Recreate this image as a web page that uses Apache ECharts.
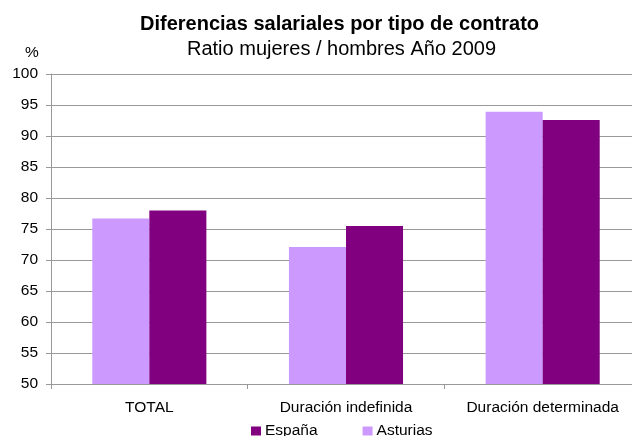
<!DOCTYPE html>
<html>
<head>
<meta charset="utf-8">
<script src="https://cdn.jsdelivr.net/npm/echarts@6/dist/echarts.min.js"></script>
<style>
  html, body { margin: 0; padding: 0; background: #fff; overflow: hidden; }
  #chart { width: 641px; height: 436px; }
</style>
</head>
<body>
<div id="chart"></div>
<script>
const categories = ["TOTAL", "Duración indefinida", "Duración determinada"]
const asturias = [76.7, 72.1, 93.9]
const espana = [78.0, 75.5, 92.6]
const legendNames = ["España", "Asturias"]

// plot area runs past the right edge in the original, so the div is wider than the window
const chart = echarts.init(document.getElementById("chart"))

chart.setOption({
    textStyle: { fontFamily: "Liberation Sans, Arial, sans-serif" },
    animation: false,
    title: [
        {
            text: "Diferencias salariales por tipo de contrato",
            left: 135,
            top: 9,
            textStyle: { fontSize: 20, fontWeight: "bold", color: "#000" },
        },
        {
            text: "Ratio mujeres / hombres Año 2009",
            left: 182,
            top: 34,
            textStyle: { fontSize: 20, fontWeight: "normal", color: "#000" },
        },
        {
            text: "%",
            left: 20,
            top: 40,
            textStyle: { fontSize: 15.5, fontWeight: "normal", color: "#000" },
        },
    ],
    legend: {
        data: legendNames,
        top: 423,
        left: 251,
        padding: 0,
        itemWidth: 10,
        itemHeight: 9,
        itemGap: 45,
        icon: "rect",
        textStyle: { fontSize: 15.5, color: "#000", padding: [0, 0, 0, -1] },
    },
    grid: {
        left: 51,
        right: 0,
        top: 74,
        bottom: 52,
        containLabel: false,
    },
    xAxis: {
        type: "category",
        data: categories,
        axisLine: { lineStyle: { color: "#999" } },
        axisTick: { show: true, length: 5, lineStyle: { color: "#999" } },
        axisLabel: { fontSize: 15.5, color: "#000", margin: 16, interval: 0 },
    },
    yAxis: {
        type: "value",
        min: 50,
        max: 100,
        interval: 5,
        axisLine: { show: true, lineStyle: { color: "#999" } },
        axisTick: { show: true, inside: false, length: 5, lineStyle: { color: "#999" } },
        axisLabel: { fontSize: 15.5, color: "#000", margin: 13 },
        splitLine: { lineStyle: { color: "#999", width: 1 } },
    },
    series: [
        {
            name: "Asturias",
            type: "bar",
            data: asturias,
            itemStyle: { color: "#CC99FF" },
            barGap: "0%",
            barCategoryGap: "42%",
        },
        {
            name: "España",
            type: "bar",
            data: espana,
            itemStyle: { color: "#800080" },
            barGap: "0%",
            barCategoryGap: "42%",
        },
    ],
})
</script>
</body>
</html>
